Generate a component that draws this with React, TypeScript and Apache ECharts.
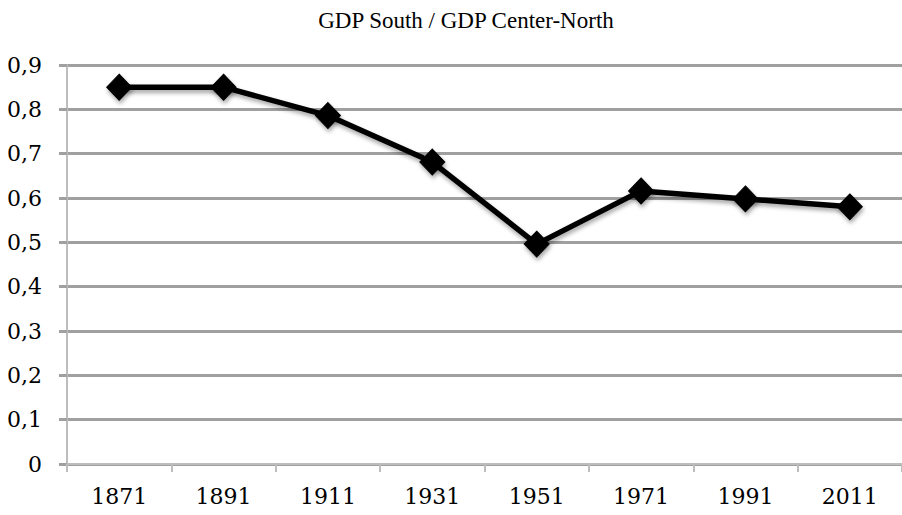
import React, { useEffect, useRef } from "react";
import * as echarts from "echarts";

const titleText = "GDP South / GDP Center-North";
const years = ["1871", "1891", "1911", "1931", "1951", "1971", "1991", "2011"];
const ratio = [0.85, 0.85, 0.786, 0.681, 0.496, 0.616, 0.598, 0.58];

const labelFont = "'DejaVu Serif', serif";

export default function App() {
  const ref = useRef<HTMLDivElement>(null);
  useEffect(() => {
    if (!ref.current) return;
    const chart = echarts.init(ref.current, null, { renderer: "svg" });
    chart.setOption({
      animation: false,
      backgroundColor: "#ffffff",
      title: {
        text: titleText,
        left: 461,
        textAlign: "center",
        top: 4,
        textStyle: {
          fontFamily: "'Liberation Serif', serif",
          fontWeight: "normal",
          fontSize: 23,
          color: "#000000",
        },
      },
      grid: { left: 67, right: -8, top: 65, bottom: 51, containLabel: false },
      xAxis: {
        type: "category",
        data: years,
        boundaryGap: true,
        axisLine: { show: true, lineStyle: { color: "#bdbdbd", width: 2 } },
        axisTick: { show: true, length: 8, lineStyle: { color: "#bdbdbd", width: 2 } },
        axisLabel: {
          fontFamily: labelFont,
          fontSize: 22,
          color: "#000000",
          margin: 21,
        },
        splitLine: { show: false },
      },
      yAxis: {
        type: "value",
        min: 0,
        max: 0.9,
        interval: 0.1,
        axisLine: { show: true, lineStyle: { color: "#bdbdbd", width: 2 } },
        axisTick: { show: true, length: 8, lineStyle: { color: "#a0a0a0", width: 3 } },
        axisLabel: {
          fontFamily: labelFont,
          fontSize: 22,
          color: "#000000",
          margin: 25,
          formatter: (v: number) => (Math.round(v * 10) / 10).toString().replace(".", ","),
        },
        splitLine: { show: true, lineStyle: { color: "#a0a0a0", width: 3 } },
      },
      series: [
        {
          type: "line",
          data: ratio,
          symbol: "diamond",
          symbolSize: [25, 26],
          lineStyle: {
            color: "#000000",
            width: 5.5,
            shadowColor: "rgba(0,0,0,0.35)",
            shadowBlur: 4,
            shadowOffsetX: 1,
            shadowOffsetY: 3,
          },
          itemStyle: {
            color: "#000000",
            borderColor: "#000000",
            borderWidth: 1,
            shadowColor: "rgba(0,0,0,0.35)",
            shadowBlur: 4,
            shadowOffsetX: 1,
            shadowOffsetY: 3,
          },
          z: 5,
        },
      ],
    });
    return () => chart.dispose();
  }, []);
  return <div ref={ref} style={{ width: 902, height: 515, position: "fixed", left: 0, top: 0 }} />;
}
